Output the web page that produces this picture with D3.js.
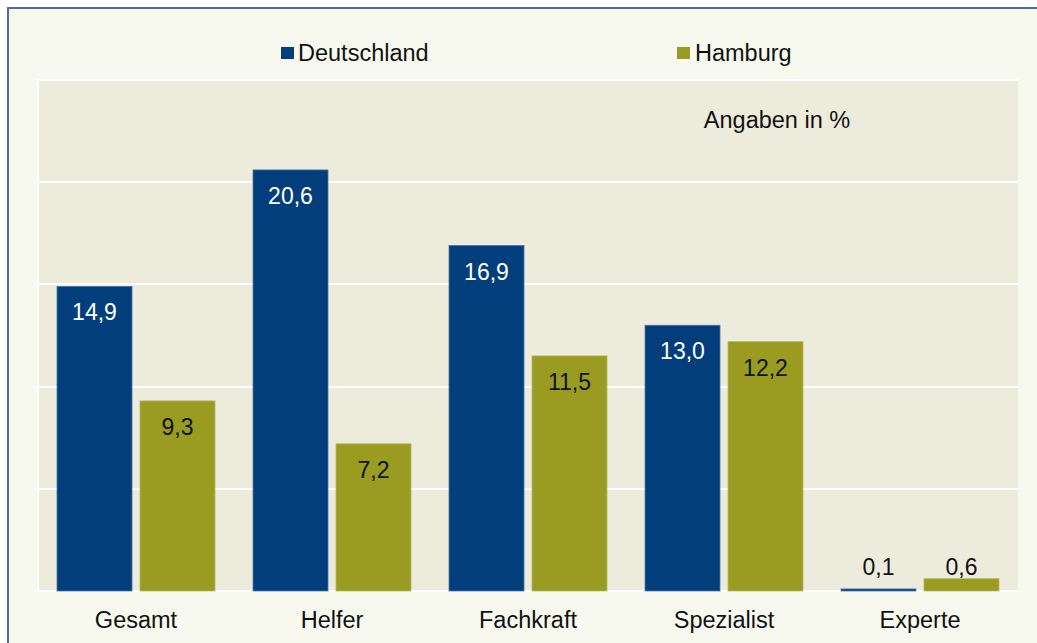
<!DOCTYPE html>
<html>
<head>
<meta charset="utf-8">
<script src="https://cdn.jsdelivr.net/npm/d3@7"></script>
<style>
  html, body { margin: 0; padding: 0; background: #ffffff; }
  svg { display: block; }
  text { font-family: "Liberation Sans", Arial, sans-serif; }
</style>
</head>
<body>
<svg id="chart" width="1037" height="643"></svg>
<script>
const categories = ["Gesamt", "Helfer", "Fachkraft", "Spezialist", "Experte"];
const seriesNames = ["Deutschland", "Hamburg"];
const deutschland = [14.9, 20.6, 16.9, 13.0, 0.1];
const hamburg = [9.3, 7.2, 11.5, 12.2, 0.6];
const yTicks = [0, 5, 10, 15, 20, 25];
const unitNote = "Angaben in %";

const colors = { Deutschland: "#023e7c", Hamburg: "#9a9b21" };
const strokes = { Deutschland: "#4f72a6", Hamburg: "#b6b65c" };
const labelColors = { Deutschland: "#ffffff", Hamburg: "#111111" };

const svg = d3.select("#chart");
const W = 1037, H = 643;

// outer frame
svg.append("rect").attr("x", 0).attr("y", 0).attr("width", W).attr("height", H).attr("fill", "#ffffff");
svg.append("rect").attr("x", 8).attr("y", 8).attr("width", W + 20).attr("height", H + 20)
  .attr("fill", "#f8f9ee").attr("stroke", "#4f6ba5").attr("stroke-width", 2);

const plot = { left: 38, right: 1018, top: 80, bottom: 591 };

const y = d3.scaleLinear().domain([0, 25]).range([plot.bottom, plot.top]);
const x0 = d3.scaleBand().domain(categories).range([plot.left, plot.right])
  .paddingInner(0.194).paddingOuter(0.097);
const x1 = d3.scaleBand().domain(seriesNames).range([0, x0.bandwidth()]).paddingInner(0.0964).paddingOuter(0);

// plot background
svg.append("rect").attr("x", plot.left).attr("y", plot.top)
  .attr("width", plot.right - plot.left).attr("height", plot.bottom - plot.top)
  .attr("fill", "#edebdc");
// white frame on left/top/bottom
svg.append("path")
  .attr("d", `M${plot.right},${plot.top}H${plot.left}V${plot.bottom}H${plot.right}`)
  .attr("fill", "none").attr("stroke", "#ffffff").attr("stroke-width", 2);

// gridlines
svg.append("g").selectAll("line").data(yTicks.filter(t => t > 0 && t < 25)).join("line")
  .attr("x1", plot.left).attr("x2", plot.right)
  .attr("y1", d => Math.round(y(d))).attr("y2", d => Math.round(y(d)))
  .attr("stroke", "#ffffff").attr("stroke-width", 2);

// data rows
const rows = categories.map((c, i) => ({
  cat: c,
  vals: [{ s: "Deutschland", v: deutschland[i] }, { s: "Hamburg", v: hamburg[i] }]
}));

const groups = svg.append("g").selectAll("g").data(rows).join("g")
  .attr("transform", d => `translate(${x0(d.cat)},0)`);

groups.selectAll("rect").data(d => d.vals).join("rect")
  .attr("x", d => x1(d.s))
  .attr("width", x1.bandwidth())
  .attr("y", d => y(d.v))
  .attr("height", d => y(0) - y(d.v))
  .attr("fill", d => colors[d.s])
  .attr("stroke", d => strokes[d.s]).attr("stroke-width", 0.8);

const fmt = v => v.toFixed(1).replace(".", ",");

groups.selectAll("text.val").data(d => d.vals).join("text")
  .attr("class", "val")
  .attr("x", d => x1(d.s) + x1.bandwidth() / 2)
  .attr("y", d => {
    const h = y(0) - y(d.v);
    return h < 40 ? y(0) - 16 : y(d.v) + 34;
  })
  .attr("text-anchor", "middle")
  .attr("font-size", "23px")
  .attr("fill", d => (y(0) - y(d.v) < 40) ? "#111111" : labelColors[d.s])
  .text(d => fmt(d.v));

// category labels
svg.append("g").selectAll("text").data(categories).join("text")
  .attr("x", d => x0(d) + x0.bandwidth() / 2)
  .attr("y", 628)
  .attr("text-anchor", "middle")
  .attr("font-size", "23.5px")
  .attr("fill", "#111111")
  .text(d => d);

// unit note
svg.append("text").attr("x", 777).attr("y", 128).attr("text-anchor", "middle")
  .attr("font-size", "23.5px").attr("fill", "#111111").text(unitNote);

// legend
const legendPos = [{ sx: 281, tx: 298 }, { sx: 677, tx: 695 }];
const legend = svg.append("g").selectAll("g").data(seriesNames).join("g");
legend.append("rect")
  .attr("x", (d, i) => legendPos[i].sx).attr("y", 47)
  .attr("width", 13).attr("height", 12)
  .attr("fill", d => colors[d]);
legend.append("text")
  .attr("x", (d, i) => legendPos[i].tx).attr("y", 61)
  .attr("font-size", "23.5px").attr("fill", "#111111")
  .text(d => d);
</script>
</body>
</html>
